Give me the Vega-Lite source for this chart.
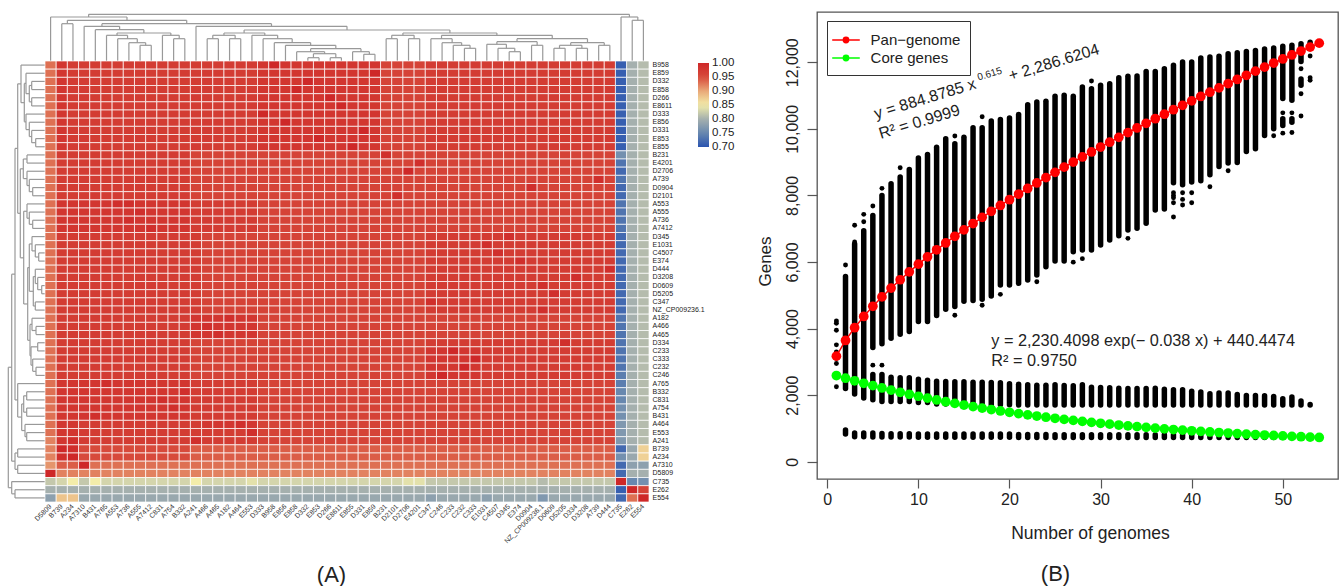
{"$schema":"https://vega.github.io/schema/vega-lite/v6.json","padding":{"left":7,"top":11,"right":0,"bottom":0},"spacing":20,
"config":{"view":{"stroke":null},"font":"Liberation Sans"},
"datasets":{
"cols":[{"i":1,"c":"D5809"},{"i":2,"c":"B739"},{"i":3,"c":"A234"},{"i":4,"c":"A7310"},{"i":5,"c":"B431"},{"i":6,"c":"A765"},{"i":7,"c":"A553"},{"i":8,"c":"A736"},{"i":9,"c":"A555"},{"i":10,"c":"A7412"},{"i":11,"c":"C831"},{"i":12,"c":"A754"},{"i":13,"c":"B332"},{"i":14,"c":"A241"},{"i":15,"c":"A466"},{"i":16,"c":"A465"},{"i":17,"c":"A182"},{"i":18,"c":"A464"},{"i":19,"c":"E553"},{"i":20,"c":"D333"},{"i":21,"c":"B958"},{"i":22,"c":"E856"},{"i":23,"c":"E858"},{"i":24,"c":"D332"},{"i":25,"c":"E853"},{"i":26,"c":"D266"},{"i":27,"c":"E8611"},{"i":28,"c":"E855"},{"i":29,"c":"D331"},{"i":30,"c":"E859"},{"i":31,"c":"B231"},{"i":32,"c":"D2101"},{"i":33,"c":"D2706"},{"i":34,"c":"E4201"},{"i":35,"c":"C347"},{"i":36,"c":"C246"},{"i":37,"c":"C233"},{"i":38,"c":"C232"},{"i":39,"c":"C333"},{"i":40,"c":"E1031"},{"i":41,"c":"C4507"},{"i":42,"c":"D345"},{"i":43,"c":"E374"},{"i":44,"c":"D0904"},{"i":45,"c":"NZ_CP009236.1"},{"i":46,"c":"D0609"},{"i":47,"c":"D5205"},{"i":48,"c":"D334"},{"i":49,"c":"D3208"},{"i":50,"c":"A739"},{"i":51,"c":"D444"},{"i":52,"c":"C735"},{"i":53,"c":"E262"},{"i":54,"c":"E554"}],
"heat":[
{"r":"B958","v":[93, 98,97, 97,97,97,97,97,97,97,97,97,97, 97,97,97,97,97,97, 98,100,98,98,98,98,98,98,98,98,98, 96,96,96,96, 97,97,97,97,97, 97,97,97,97,97,97,97,97,97,97,97,97, 71,80,81]},
{"r":"E859","v":[93, 98,97, 97,97,97,97,97,97,97,97,97,97, 97,97,97,97,97,97, 98,98,98,98,98,98,98,98,98,98,100, 96,96,96,96, 97,97,97,97,97, 97,97,97,97,97,97,97,97,97,97,97,97, 71,80,81]},
{"r":"D332","v":[93, 98,97, 97,97,97,97,97,97,97,97,97,97, 97,97,97,97,97,97, 98,98,98,98,100,98,98,98,98,98,98, 96,96,96,96, 97,97,97,97,97, 97,97,97,97,97,97,97,97,97,97,97,97, 71,80,81]},
{"r":"E858","v":[93, 98,97, 97,97,97,97,97,97,97,97,97,97, 97,97,97,97,97,97, 98,98,98,100,98,98,98,98,98,98,98, 96,96,96,96, 97,97,97,97,97, 97,97,97,97,97,97,97,97,97,97,97,97, 71,80,81]},
{"r":"D266","v":[93, 98,97, 97,97,97,97,97,97,97,97,97,97, 97,97,97,97,97,97, 98,98,98,98,98,98,100,98,98,98,98, 96,96,96,96, 97,97,97,97,97, 97,97,97,97,97,97,97,97,97,97,97,97, 71,80,81]},
{"r":"E8611","v":[93, 98,97, 97,97,97,97,97,97,97,97,97,97, 97,97,97,97,97,97, 98,98,98,98,98,98,98,100,98,98,98, 96,96,96,96, 97,97,97,97,97, 97,97,97,97,97,97,97,97,97,97,97,97, 71,80,81]},
{"r":"D333","v":[93, 98,97, 97,97,97,97,97,97,97,97,97,97, 97,97,97,97,97,97, 100,98,98,98,98,98,98,98,98,98,98, 96,96,96,96, 97,97,97,97,97, 97,97,97,97,97,97,97,97,97,97,97,97, 71,80,81]},
{"r":"E856","v":[93, 98,97, 97,97,97,97,97,97,97,97,97,97, 97,97,97,97,97,97, 98,98,100,98,98,98,98,98,98,98,98, 96,96,96,96, 97,97,97,97,97, 97,97,97,97,97,97,97,97,97,97,97,97, 71,80,81]},
{"r":"D331","v":[93, 98,97, 97,97,97,97,97,97,97,97,97,97, 97,97,97,97,97,97, 98,98,98,98,98,98,98,98,98,100,98, 96,96,96,96, 97,97,97,97,97, 97,97,97,97,97,97,97,97,97,97,97,97, 71,80,81]},
{"r":"E853","v":[93, 98,97, 97,97,97,97,97,97,97,97,97,97, 97,97,97,97,97,97, 98,98,98,98,98,100,98,98,98,98,98, 96,96,96,96, 97,97,97,97,97, 97,97,97,97,97,97,97,97,97,97,97,97, 71,80,81]},
{"r":"E855","v":[93, 98,97, 97,97,97,97,97,97,97,97,97,97, 97,97,97,97,97,97, 98,98,98,98,98,98,98,98,100,98,98, 96,96,96,96, 97,97,97,97,97, 97,97,97,97,97,97,97,97,97,97,97,97, 71,80,81]},
{"r":"B231","v":[93, 97,97, 97,97,97,97,97,97,97,97,97,97, 96,96,96,96,96,96, 96,96,96,96,96,96,96,96,96,96,96, 99,96,96,96, 96,96,96,96,96, 96,96,96,96,96,96,96,96,96,96,96,96, 76,80,81]},
{"r":"E4201","v":[93, 97,97, 97,97,97,97,97,97,97,97,97,97, 96,96,96,96,96,96, 96,96,96,96,96,96,96,96,96,96,96, 96,96,96,99, 96,96,96,96,96, 96,96,96,96,96,96,96,96,96,96,96,96, 73,80,81]},
{"r":"D2706","v":[93, 97,97, 97,97,97,97,97,97,97,97,97,97, 96,96,96,96,96,96, 96,96,96,96,96,96,96,96,96,96,96, 96,96,100,96, 96,96,96,96,96, 96,96,96,96,96,96,96,96,96,96,96,96, 72,80,81]},
{"r":"A739","v":[93, 97,97, 97,97,97,97,97,97,97,97,97,97, 96,96,96,96,96,96, 96,96,96,96,96,96,96,96,96,96,96, 96,96,96,96, 96,96,96,96,96, 96,96,96,96,96,96,96,96,96,96,99,96, 73,80,81]},
{"r":"D0904","v":[93, 97,97, 97,97,97,97,97,97,97,97,97,97, 96,96,96,96,96,96, 96,96,96,96,96,96,96,96,96,96,96, 96,96,96,96, 96,96,96,96,96, 96,96,96,96,99,96,96,96,96,96,96,96, 72,80,81]},
{"r":"D2101","v":[93, 97,97, 97,97,97,97,97,97,97,97,97,97, 96,96,96,96,96,96, 96,96,96,96,96,96,96,96,96,96,96, 96,99,96,96, 96,96,96,96,96, 96,96,96,96,96,96,96,96,96,96,96,96, 72,80,81]},
{"r":"A553","v":[93, 98,98, 98,98,98,99,99,98,98,98,98,98, 97,97,97,97,97,97, 96,96,96,96,96,96,96,96,96,96,96, 96,96,96,96, 96,96,96,96,96, 96,96,96,96,96,96,96,96,96,96,96,96, 73,80,81]},
{"r":"A555","v":[93, 98,98, 98,98,98,98,98,99,98,98,98,98, 97,97,97,97,97,97, 96,96,96,96,96,96,96,96,96,96,96, 96,96,96,96, 96,96,96,96,96, 96,96,96,96,96,96,96,96,96,96,96,96, 73,80,81]},
{"r":"A736","v":[93, 98,98, 98,98,98,98,99,98,98,98,98,98, 97,97,97,97,97,97, 96,96,96,96,96,96,96,96,96,96,96, 96,96,96,96, 96,96,96,96,96, 96,96,96,96,96,96,96,96,96,96,96,96, 73,80,81]},
{"r":"A7412","v":[93, 98,98, 98,98,98,98,98,98,99,98,98,98, 97,97,97,97,97,97, 96,96,96,96,96,96,96,96,96,96,96, 96,96,96,96, 96,96,96,96,96, 96,96,96,96,96,96,96,96,96,96,96,96, 73,80,81]},
{"r":"D345","v":[93, 97,97, 97,97,97,97,97,97,97,97,97,97, 97,96,96,96,96,96, 96,96,96,96,96,96,96,96,96,96,96, 96,96,96,96, 97,97,97,97,97, 97,97,99,97,97,97,97,97,97,97,97,97, 72,80,81]},
{"r":"E1031","v":[93, 97,97, 97,97,97,97,97,97,97,97,97,97, 97,96,96,96,96,96, 96,96,96,96,96,96,96,96,96,96,96, 96,96,96,96, 97,97,97,97,97, 99,97,97,97,97,97,97,97,97,97,97,97, 72,80,81]},
{"r":"C4507","v":[93, 97,97, 97,97,97,97,97,97,97,97,97,97, 97,96,96,96,96,96, 96,96,96,96,96,96,96,96,96,96,96, 96,96,96,96, 97,97,97,97,97, 97,99,97,97,97,97,97,97,97,97,97,97, 72,80,81]},
{"r":"E374","v":[93, 97,97, 97,97,97,97,97,97,97,97,97,97, 97,96,96,96,96,96, 96,96,96,96,96,96,96,96,96,96,96, 96,96,96,96, 97,97,97,97,97, 97,97,97,99,97,97,97,97,97,97,97,97, 72,80,81]},
{"r":"D444","v":[93, 97,97, 97,97,97,97,97,97,97,97,97,97, 97,96,96,96,96,96, 96,96,96,96,96,96,96,96,96,96,96, 96,96,96,96, 97,97,97,97,97, 97,97,97,97,97,97,97,97,97,97,97,99, 72,80,81]},
{"r":"D3208","v":[93, 97,97, 97,97,97,97,97,97,97,97,97,97, 97,96,96,96,96,96, 96,96,96,96,96,96,96,96,96,96,96, 96,96,96,96, 97,97,97,97,97, 97,97,97,97,97,97,97,97,99,97,97,97, 72,80,81]},
{"r":"D0609","v":[93, 97,97, 97,97,97,97,97,97,97,97,97,97, 97,96,96,96,96,96, 96,96,96,96,96,96,96,96,96,96,96, 96,96,96,96, 97,97,97,97,97, 97,97,97,97,97,99,97,97,97,97,97,97, 72,80,81]},
{"r":"D5205","v":[93, 97,97, 97,97,97,97,97,97,97,97,97,97, 97,96,96,96,96,96, 96,96,96,96,96,96,96,96,96,96,96, 96,96,96,96, 97,97,97,97,97, 97,97,97,97,97,97,99,97,97,97,97,97, 72,80,81]},
{"r":"C347","v":[93, 97,97, 97,97,97,97,97,97,97,97,97,97, 97,96,96,96,96,96, 96,96,96,96,96,96,96,96,96,96,96, 96,96,96,96, 99,97,97,97,97, 97,97,97,97,97,97,97,97,97,97,97,97, 72,80,81]},
{"r":"NZ_CP009236.1","v":[93, 97,97, 97,97,97,97,97,97,97,97,97,97, 97,96,96,96,96,96, 96,96,96,96,96,96,96,96,96,96,96, 96,96,96,96, 97,97,97,97,97, 97,97,97,97,97,99,97,97,97,97,97,97, 72,80,81]},
{"r":"A182","v":[93, 97,97, 97,97,97,97,97,97,97,97,97,97, 98,98,98,99,98,98, 96,96,96,96,96,96,96,96,96,96,96, 96,96,96,96, 96,96,96,96,96, 96,96,96,96,96,96,96,96,96,96,96,96, 73,80,81]},
{"r":"A466","v":[93, 97,97, 97,97,97,97,97,97,97,97,97,97, 98,99,98,98,98,98, 96,96,96,96,96,96,96,96,96,96,96, 96,96,96,96, 96,96,96,96,96, 96,96,96,96,96,96,96,96,96,96,96,96, 73,80,81]},
{"r":"A465","v":[93, 97,97, 97,97,97,97,97,97,97,97,97,97, 98,98,99,98,98,98, 96,96,96,96,96,96,96,96,96,96,96, 96,96,96,96, 96,96,96,96,96, 96,96,96,96,96,96,96,96,96,96,96,96, 73,80,81]},
{"r":"D334","v":[93, 97,97, 97,97,97,97,97,97,97,97,97,97, 96,96,96,96,96,96, 96,96,96,96,96,96,96,96,96,96,96, 96,96,96,96, 97,97,97,97,97, 97,97,97,97,97,97,97,99,97,97,97,97, 73,80,81]},
{"r":"C233","v":[93, 97,97, 97,97,97,97,97,97,97,97,97,97, 96,96,96,96,96,96, 96,96,96,96,96,96,96,96,96,96,96, 96,96,96,96, 98,98,100,98,98, 97,97,97,97,97,97,97,97,97,97,97,97, 73,80,81]},
{"r":"C333","v":[93, 97,97, 97,97,97,97,97,97,97,97,97,97, 96,96,96,96,96,96, 96,96,96,96,96,96,96,96,96,96,96, 96,96,96,96, 98,98,98,98,100, 97,97,97,97,97,97,97,97,97,97,97,97, 73,80,81]},
{"r":"C232","v":[93, 97,97, 97,97,97,97,97,97,97,97,97,97, 96,96,96,96,96,96, 96,96,96,96,96,96,96,96,96,96,96, 96,96,96,96, 98,98,98,100,98, 97,97,97,97,97,97,97,97,97,97,97,97, 73,80,81]},
{"r":"C246","v":[93, 97,97, 97,97,97,97,97,97,97,97,97,97, 96,96,96,96,96,96, 96,96,96,96,96,96,96,96,96,96,96, 96,96,96,96, 98,100,98,98,98, 97,97,97,97,97,97,97,97,97,97,97,97, 74,80,81]},
{"r":"A765","v":[93, 98,98, 98,98,99,98,98,98,98,98,98,98, 97,97,97,97,97,97, 96,96,96,96,96,96,96,96,96,96,96, 96,96,96,96, 96,96,96,96,96, 96,96,96,96,96,96,96,96,96,96,96,96, 74,80,81]},
{"r":"B332","v":[93, 98,98, 98,98,98,98,98,98,98,98,98,99, 97,97,97,97,97,97, 96,96,96,96,96,96,96,96,96,96,96, 96,96,96,96, 96,96,96,96,96, 96,96,96,96,96,96,96,96,96,96,96,96, 75,80,81]},
{"r":"C831","v":[93, 98,98, 98,98,98,98,98,98,98,99,98,98, 97,97,97,97,97,97, 96,96,96,96,96,96,96,96,96,96,96, 96,96,96,96, 96,96,96,96,96, 96,96,96,96,96,96,96,96,96,96,96,96, 75,80,81]},
{"r":"A754","v":[93, 98,98, 98,98,98,98,98,98,98,98,99,98, 97,97,97,97,97,97, 96,96,96,96,96,96,96,96,96,96,96, 96,96,96,96, 96,96,96,96,96, 96,96,96,96,96,96,96,96,96,96,96,96, 76,80,81]},
{"r":"B431","v":[93, 98,98, 98,99,98,98,98,98,98,98,98,98, 97,97,97,97,97,97, 96,96,96,96,96,96,96,96,96,96,96, 96,96,96,96, 96,96,96,96,96, 96,96,96,96,96,96,96,96,96,96,96,96, 76,80,81]},
{"r":"A464","v":[93, 98,98, 97,97,97,97,97,97,97,97,97,97, 97,98,98,98,99,98, 96,96,96,96,96,96,96,96,96,96,96, 96,96,96,96, 96,96,96,96,96, 96,96,96,96,96,96,96,96,96,96,96,96, 77,80,81]},
{"r":"E553","v":[93, 98,98, 97,97,97,97,97,97,97,97,97,97, 97,97,97,97,97,99, 96,96,96,96,96,96,96,96,96,96,96, 96,96,96,96, 96,96,96,96,96, 96,96,96,96,96,96,96,96,96,96,96,96, 77,80,81]},
{"r":"A241","v":[92, 98,99, 97,97,97,97,97,97,97,97,97,97, 99,97,97,97,97,97, 96,96,96,96,96,96,96,96,96,96,96, 96,96,96,96, 96,96,96,96,96, 96,96,96,96,96,96,96,96,96,96,96,96, 77,80,81]},
{"r":"B739","v":[92, 100,99, 95,95,95,95,95,95,95,95,95,95, 94,94,94,94,94,94, 94,94,94,94,94,94,94,94,94,94,94, 94,94,94,94, 94,94,94,94,94, 94,94,94,94,94,94,94,94,94,94,94,94, 72,79,87]},
{"r":"A234","v":[92, 99,100, 95,95,95,95,95,95,95,95,95,95, 94,94,94,94,94,94, 94,94,94,94,94,94,94,94,94,94,94, 94,94,94,94, 94,94,94,94,94, 94,94,94,94,94,94,94,94,94,94,94,94, 76,79,87]},
{"r":"A7310","v":[91, 94,94, 100,93,93,93,93,93,93,93,93,93, 93,93,93,93,93,93, 93,93,93,93,93,93,93,93,93,93,93, 93,93,93,93, 93,93,93,93,93, 93,93,93,93,93,93,93,93,93,93,93,93, 72,78,78]},
{"r":"D5809","v":[100, 92,92, 92,92,92,92,92,92,92,92,92,92, 92,92,92,92,92,92, 92,92,92,92,92,92,92,92,92,92,92, 92,92,92,92, 92,92,92,92,92, 92,92,92,92,92,92,92,92,92,92,92,92, 72,80,80]},
{"r":"C735","v":[82, 83,85, 82,85,83,83,83,83,83,83,83,83, 85,83,83,83,83,84, 83,83,83,83,83,83,83,83,83,83,83, 83,83,84,84, 82,82,82,82,82, 82,82,82,82,82,81,82,82,82,82,82,82, 100,75,76]},
{"r":"E262","v":[80, 80,80, 80,80,80,80,80,80,80,80,80,80, 80,80,80,80,80,80, 80,80,80,80,80,80,80,80,80,80,80, 80,80,80,80, 80,80,80,80,80, 80,80,80,80,80,80,80,80,80,80,80,80, 71,100,96]},
{"r":"E554","v":[78, 88,88, 79,79,79,79,79,79,79,79,79,79, 79,79,79,79,79,79, 79,79,79,79,79,79,79,79,79,79,79, 79,79,79,79, 78,79,79,79,79, 78,79,79,79,79,77,79,79,79,79,79,79, 72,93,100]}
],
"topTree":[{"a":9,"b":10,"h":15.7,"ha":0,"hb":0},{"a":8,"b":9.5,"h":18.3,"ha":0,"hb":15.7},{"a":7,"b":8.75,"h":22.3,"ha":0,"hb":18.3},{"a":6,"b":7.88,"h":25.7,"ha":0,"hb":22.3},{"a":12,"b":13,"h":22.3,"ha":0,"hb":0},{"a":11,"b":12.5,"h":25.7,"ha":0,"hb":22.3},{"a":6.94,"b":11.75,"h":28,"ha":25.7,"hb":25.7},{"a":5,"b":9.34,"h":31.3,"ha":0,"hb":28},{"a":4,"b":7.17,"h":34.7,"ha":0,"hb":31.3},{"a":15,"b":16,"h":22.3,"ha":0,"hb":0},{"a":17,"b":18,"h":22.3,"ha":0,"hb":0},{"a":15.5,"b":17.5,"h":25.7,"ha":22.3,"hb":22.3},{"a":29,"b":30,"h":6.7,"ha":0,"hb":0},{"a":28,"b":29.5,"h":9.3,"ha":0,"hb":6.7},{"a":24,"b":25,"h":3.3,"ha":0,"hb":0},{"a":26,"b":27,"h":3.3,"ha":0,"hb":0},{"a":24.5,"b":26.5,"h":7.3,"ha":3.3,"hb":3.3},{"a":23,"b":25.5,"h":9.3,"ha":0,"hb":7.3},{"a":24.25,"b":28.75,"h":12.3,"ha":9.3,"hb":9.3},{"a":22,"b":26.5,"h":15.7,"ha":0,"hb":12.3},{"a":21,"b":24.25,"h":18.3,"ha":0,"hb":15.7},{"a":20,"b":22.6,"h":22.3,"ha":0,"hb":18.3},{"a":19,"b":21.3,"h":25.7,"ha":0,"hb":22.3},{"a":16.5,"b":20.15,"h":28,"ha":25.7,"hb":25.7},{"a":31,"b":32,"h":22.3,"ha":0,"hb":0},{"a":33,"b":34,"h":22.3,"ha":0,"hb":0},{"a":31.5,"b":33.5,"h":25.7,"ha":22.3,"hb":22.3},{"a":38,"b":39,"h":12.7,"ha":0,"hb":0},{"a":37,"b":38.5,"h":15.7,"ha":0,"hb":12.7},{"a":36,"b":37.75,"h":18.3,"ha":0,"hb":15.7},{"a":35,"b":36.9,"h":22.3,"ha":0,"hb":18.3},{"a":42,"b":43,"h":9.3,"ha":0,"hb":0},{"a":41,"b":42.5,"h":12.7,"ha":0,"hb":9.3},{"a":40,"b":41.75,"h":16.7,"ha":0,"hb":12.7},{"a":44,"b":45,"h":15.7,"ha":0,"hb":0},{"a":40.9,"b":44.5,"h":19.3,"ha":16.7,"hb":15.7},{"a":46,"b":47,"h":12.7,"ha":0,"hb":0},{"a":48,"b":49,"h":12.7,"ha":0,"hb":0},{"a":46.5,"b":48.5,"h":15.7,"ha":12.7,"hb":12.7},{"a":50,"b":51,"h":15.7,"ha":0,"hb":0},{"a":47.5,"b":50.5,"h":18.3,"ha":15.7,"hb":15.7},{"a":42.7,"b":49,"h":22.3,"ha":19.3,"hb":18.3},{"a":35.95,"b":45.85,"h":25.7,"ha":22.3,"hb":22.3},{"a":32.5,"b":40.9,"h":28,"ha":25.7,"hb":25.7},{"a":18.3,"b":36.7,"h":31,"ha":28,"hb":28},{"a":14,"b":27.5,"h":34.7,"ha":0,"hb":31},{"a":5.59,"b":20.75,"h":37.3,"ha":34.7,"hb":34.7},{"a":2,"b":3,"h":37.3,"ha":0,"hb":0},{"a":2.5,"b":13.17,"h":40.7,"ha":37.3,"hb":37.3},{"a":1,"b":7.83,"h":44,"ha":0,"hb":40.7},{"a":53,"b":54,"h":40.7,"ha":0,"hb":0},{"a":52,"b":53.5,"h":44,"ha":0,"hb":40.7},{"a":4.4,"b":52.75,"h":46.7,"ha":44,"hb":44}],
"leftTree":[{"a":3,"b":4,"h":13.3,"ha":0,"hb":0},{"a":5,"b":6,"h":13.3,"ha":0,"hb":0},{"a":3.5,"b":5.5,"h":15.7,"ha":13.3,"hb":13.3},{"a":2,"b":4.5,"h":19,"ha":0,"hb":15.7},{"a":10,"b":11,"h":9.3,"ha":0,"hb":0},{"a":9,"b":10.5,"h":13.3,"ha":0,"hb":9.3},{"a":8,"b":9.75,"h":15.7,"ha":0,"hb":13.3},{"a":7,"b":8.9,"h":19,"ha":0,"hb":15.7},{"a":3.25,"b":7.95,"h":20.7,"ha":19,"hb":19},{"a":1,"b":5.6,"h":24,"ha":0,"hb":20.7},{"a":12,"b":13,"h":18,"ha":0,"hb":0},{"a":16,"b":17,"h":12.3,"ha":0,"hb":0},{"a":15,"b":16.5,"h":15.7,"ha":0,"hb":12.3},{"a":14,"b":15.75,"h":18,"ha":0,"hb":15.7},{"a":12.5,"b":14.9,"h":21.7,"ha":18,"hb":18},{"a":20,"b":21,"h":12.3,"ha":0,"hb":0},{"a":19,"b":20.5,"h":15.7,"ha":0,"hb":12.3},{"a":18,"b":19.75,"h":18,"ha":0,"hb":15.7},{"a":24,"b":25,"h":6.3,"ha":0,"hb":0},{"a":23,"b":24.5,"h":9.7,"ha":0,"hb":6.3},{"a":22,"b":23.75,"h":13,"ha":0,"hb":9.7},{"a":28,"b":29,"h":3.3,"ha":0,"hb":0},{"a":27,"b":28.5,"h":7.3,"ha":0,"hb":3.3},{"a":26,"b":27.75,"h":9.7,"ha":0,"hb":7.3},{"a":30,"b":31,"h":9.7,"ha":0,"hb":0},{"a":26.9,"b":30.5,"h":11.7,"ha":9.7,"hb":9.7},{"a":22.9,"b":28.7,"h":15.7,"ha":13,"hb":11.7},{"a":33,"b":34,"h":9,"ha":0,"hb":0},{"a":32,"b":33.5,"h":13,"ha":0,"hb":9},{"a":35,"b":36,"h":7.3,"ha":0,"hb":0},{"a":38,"b":39,"h":9,"ha":0,"hb":0},{"a":37,"b":38.5,"h":12.3,"ha":0,"hb":9},{"a":35.5,"b":37.75,"h":14,"ha":7.3,"hb":12.3},{"a":32.75,"b":36.6,"h":15,"ha":13,"hb":14},{"a":25.8,"b":34.7,"h":17.3,"ha":15.7,"hb":15},{"a":18.9,"b":30.25,"h":21.3,"ha":18,"hb":17.3},{"a":13.7,"b":24.6,"h":24.7,"ha":21.7,"hb":21.3},{"a":3.3,"b":19.15,"h":27.3,"ha":24,"hb":24.7},{"a":41,"b":42,"h":18.3,"ha":0,"hb":0},{"a":43,"b":44,"h":18.3,"ha":0,"hb":0},{"a":41.5,"b":43.5,"h":21.3,"ha":18.3,"hb":18.3},{"a":46,"b":47,"h":18.3,"ha":0,"hb":0},{"a":45,"b":46.5,"h":20,"ha":0,"hb":18.3},{"a":42.5,"b":45.75,"h":23.3,"ha":21.3,"hb":20},{"a":40,"b":44.1,"h":27.3,"ha":0,"hb":23.3},{"a":11.2,"b":42,"h":30,"ha":27.3,"hb":27.3},{"a":48,"b":49,"h":27.3,"ha":0,"hb":0},{"a":50,"b":51,"h":27.3,"ha":0,"hb":0},{"a":48.5,"b":50.5,"h":30,"ha":27.3,"hb":27.3},{"a":26.6,"b":49.5,"h":33.3,"ha":30,"hb":30},{"a":53,"b":54,"h":30,"ha":0,"hb":0},{"a":52,"b":53.5,"h":33.3,"ha":0,"hb":30},{"a":38,"b":52.75,"h":36.7,"ha":33.3,"hb":33.3}],
"bands":[{"n":2,"lo":2200,"hi":5560},{"n":3,"lo":2030,"hi":6540},{"n":4,"lo":1910,"hi":6940},{"n":5,"lo":3430,"hi":7400},{"n":6,"lo":3540,"hi":8000},{"n":7,"lo":3710,"hi":8350},{"n":8,"lo":3830,"hi":8550},{"n":9,"lo":3910,"hi":8780},{"n":10,"lo":4210,"hi":9120},{"n":11,"lo":4210,"hi":9230},{"n":12,"lo":4390,"hi":9450},{"n":13,"lo":4580,"hi":9700},{"n":14,"lo":4660,"hi":9550},{"n":15,"lo":4820,"hi":9750},{"n":16,"lo":4845,"hi":10030},{"n":17,"lo":4880,"hi":10030},{"n":18,"lo":4980,"hi":10235},{"n":19,"lo":5310,"hi":10280},{"n":20,"lo":5310,"hi":10325},{"n":21,"lo":5360,"hi":10430},{"n":22,"lo":5460,"hi":10725},{"n":23,"lo":5610,"hi":10805},{"n":24,"lo":5860,"hi":10830},{"n":25,"lo":6030,"hi":10976},{"n":26,"lo":6030,"hi":11006},{"n":27,"lo":6310,"hi":10976},{"n":28,"lo":6360,"hi":11256},{"n":29,"lo":6360,"hi":11205},{"n":30,"lo":6510,"hi":11306},{"n":31,"lo":6660,"hi":11356},{"n":32,"lo":6790,"hi":11536},{"n":33,"lo":6960,"hi":11576},{"n":34,"lo":7010,"hi":11586},{"n":35,"lo":7160,"hi":11726},{"n":36,"lo":7560,"hi":11726},{"n":37,"lo":7590,"hi":11806},{"n":38,"lo":8380,"hi":11907},{"n":39,"lo":8320,"hi":12007},{"n":40,"lo":8400,"hi":12007},{"n":41,"lo":8440,"hi":12127},{"n":42,"lo":8620,"hi":12157},{"n":43,"lo":8870,"hi":12177},{"n":44,"lo":8970,"hi":12257},{"n":45,"lo":8990,"hi":12287},{"n":46,"lo":9320,"hi":12327},{"n":47,"lo":9400,"hi":12357},{"n":48,"lo":9800,"hi":12397},{"n":49,"lo":10000,"hi":12427},{"n":50,"lo":10910,"hi":12478},{"n":50,"lo":10100,"hi":10300},{"n":51,"lo":10860,"hi":12508},{"n":51,"lo":10200,"hi":10300},{"n":52,"lo":12020,"hi":12558},{"n":52,"lo":11310,"hi":11500},{"n":53,"lo":12560,"hi":12600},
{"n":5,"lo":1860,"hi":2620},{"n":6,"lo":1810,"hi":2620},{"n":7,"lo":1810,"hi":2540},{"n":8,"lo":1810,"hi":2520},{"n":9,"lo":1810,"hi":2520},{"n":10,"lo":1780,"hi":2480},{"n":11,"lo":1780,"hi":2450},{"n":12,"lo":1730,"hi":2420},{"n":13,"lo":1730,"hi":2410},{"n":14,"lo":1730,"hi":2400},{"n":15,"lo":1720,"hi":2400},{"n":16,"lo":1720,"hi":2390},{"n":17,"lo":1720,"hi":2390},{"n":18,"lo":1710,"hi":2380},{"n":19,"lo":1710,"hi":2370},{"n":20,"lo":1710,"hi":2340},{"n":21,"lo":1700,"hi":2330},{"n":22,"lo":1700,"hi":2310},{"n":23,"lo":1700,"hi":2300},{"n":24,"lo":1700,"hi":2293},{"n":25,"lo":1700,"hi":2310},{"n":26,"lo":1700,"hi":2290},{"n":27,"lo":1700,"hi":2280},{"n":28,"lo":1700,"hi":2310},{"n":29,"lo":1700,"hi":2240},{"n":30,"lo":1700,"hi":2230},{"n":31,"lo":1700,"hi":2220},{"n":32,"lo":1700,"hi":2210},{"n":33,"lo":1700,"hi":2200},{"n":34,"lo":1700,"hi":2200},{"n":35,"lo":1700,"hi":2200},{"n":36,"lo":1700,"hi":2210},{"n":37,"lo":1700,"hi":2180},{"n":38,"lo":1700,"hi":2160},{"n":39,"lo":1700,"hi":2160},{"n":40,"lo":1700,"hi":2120},{"n":41,"lo":1700,"hi":2090},{"n":42,"lo":1700,"hi":2040},{"n":43,"lo":1700,"hi":2060},{"n":44,"lo":1700,"hi":2060},{"n":45,"lo":1700,"hi":2020},{"n":46,"lo":1700,"hi":1990},{"n":47,"lo":1700,"hi":1990},{"n":48,"lo":1700,"hi":1980},{"n":49,"lo":1700,"hi":1960},{"n":50,"lo":1700,"hi":1890},{"n":51,"lo":1700,"hi":1940},{"n":52,"lo":1700,"hi":1820},{"n":53,"lo":1700,"hi":1720},
{"n":2,"lo":830,"hi":950},{"n":3,"lo":750,"hi":860},{"n":4,"lo":750,"hi":860},{"n":5,"lo":745,"hi":860},{"n":6,"lo":745,"hi":850},{"n":7,"lo":740,"hi":840},{"n":8,"lo":740,"hi":840},{"n":9,"lo":740,"hi":840},{"n":10,"lo":735,"hi":830},{"n":11,"lo":735,"hi":830},{"n":12,"lo":735,"hi":830},{"n":13,"lo":735,"hi":830},{"n":14,"lo":735,"hi":830},{"n":15,"lo":735,"hi":830},{"n":16,"lo":735,"hi":830},{"n":17,"lo":735,"hi":830},{"n":18,"lo":735,"hi":830},{"n":19,"lo":735,"hi":830},{"n":20,"lo":735,"hi":830},{"n":21,"lo":730,"hi":820},{"n":22,"lo":730,"hi":820},{"n":23,"lo":730,"hi":820},{"n":24,"lo":730,"hi":820},{"n":25,"lo":730,"hi":810},{"n":26,"lo":730,"hi":810},{"n":27,"lo":730,"hi":810},{"n":28,"lo":730,"hi":810},{"n":29,"lo":730,"hi":810},{"n":30,"lo":730,"hi":810},{"n":31,"lo":730,"hi":810},{"n":32,"lo":730,"hi":810},{"n":33,"lo":730,"hi":810},{"n":34,"lo":730,"hi":810},{"n":35,"lo":730,"hi":810},{"n":36,"lo":730,"hi":810},{"n":37,"lo":730,"hi":810},{"n":38,"lo":730,"hi":810},{"n":39,"lo":730,"hi":810},{"n":40,"lo":730,"hi":810},{"n":41,"lo":730,"hi":800},{"n":42,"lo":730,"hi":800},{"n":43,"lo":730,"hi":790},{"n":44,"lo":730,"hi":790},{"n":45,"lo":730,"hi":780},{"n":46,"lo":730,"hi":770},{"n":47,"lo":730,"hi":760},{"n":48,"lo":730,"hi":750},{"n":49,"lo":730,"hi":740}],
"dots":[{"n":1,"y":4230},{"n":1,"y":4160},{"n":1,"y":3950},{"n":1,"y":3510},{"n":1,"y":3300},{"n":1,"y":3100},{"n":1,"y":2950},{"n":1,"y":2250},{"n":2,"y":5910},{"n":3,"y":7104},{"n":3,"y":6600},{"n":4,"y":7431},{"n":4,"y":7210},{"n":5,"y":7681},{"n":5,"y":2900},{"n":6,"y":8212},{"n":6,"y":2900},{"n":8,"y":8832},{"n":14,"y":9784},{"n":14,"y":4400},{"n":17,"y":10364},{"n":17,"y":4700},{"n":19,"y":5027},{"n":23,"y":5407},{"n":27,"y":5995},{"n":28,"y":6100},{"n":29,"y":11436},{"n":33,"y":6710},{"n":38,"y":8080},{"n":38,"y":8000},{"n":38,"y":7930},{"n":38,"y":7780},{"n":38,"y":7350},{"n":39,"y":8080},{"n":39,"y":7880},{"n":39,"y":7710},{"n":40,"y":8080},{"n":40,"y":7780},{"n":42,"y":8260},{"n":44,"y":8740},{"n":49,"y":9790},{"n":50,"y":10480},{"n":50,"y":9870},{"n":51,"y":10480},{"n":51,"y":9890},{"n":52,"y":11806},{"n":52,"y":11056},{"n":52,"y":10385},{"n":53,"y":12537},{"n":53,"y":12187},{"n":53,"y":11536},{"n":53,"y":11460}],
"series":[{"n":1,"s":"Pan−genome","y":3171},{"n":2,"s":"Pan−genome","y":3642},{"n":3,"s":"Pan−genome","y":4026},{"n":4,"s":"Pan−genome","y":4363},{"n":5,"s":"Pan−genome","y":4668},{"n":6,"s":"Pan−genome","y":4950},{"n":7,"s":"Pan−genome","y":5215},{"n":8,"s":"Pan−genome","y":5466},{"n":9,"s":"Pan−genome","y":5704},{"n":10,"s":"Pan−genome","y":5934},{"n":11,"s":"Pan−genome","y":6154},{"n":12,"s":"Pan−genome","y":6366},{"n":13,"s":"Pan−genome","y":6572},{"n":14,"s":"Pan−genome","y":6772},{"n":15,"s":"Pan−genome","y":6966},{"n":16,"s":"Pan−genome","y":7155},{"n":17,"s":"Pan−genome","y":7341},{"n":18,"s":"Pan−genome","y":7522},{"n":19,"s":"Pan−genome","y":7698},{"n":20,"s":"Pan−genome","y":7871},{"n":21,"s":"Pan−genome","y":8042},{"n":22,"s":"Pan−genome","y":8209},{"n":23,"s":"Pan−genome","y":8373},{"n":24,"s":"Pan−genome","y":8534},{"n":25,"s":"Pan−genome","y":8693},{"n":26,"s":"Pan−genome","y":8849},{"n":27,"s":"Pan−genome","y":9003},{"n":28,"s":"Pan−genome","y":9155},{"n":29,"s":"Pan−genome","y":9305},{"n":30,"s":"Pan−genome","y":9453},{"n":31,"s":"Pan−genome","y":9599},{"n":32,"s":"Pan−genome","y":9744},{"n":33,"s":"Pan−genome","y":9887},{"n":34,"s":"Pan−genome","y":10027},{"n":35,"s":"Pan−genome","y":10166},{"n":36,"s":"Pan−genome","y":10304},{"n":37,"s":"Pan−genome","y":10440},{"n":38,"s":"Pan−genome","y":10575},{"n":39,"s":"Pan−genome","y":10708},{"n":40,"s":"Pan−genome","y":10841},{"n":41,"s":"Pan−genome","y":10972},{"n":42,"s":"Pan−genome","y":11101},{"n":43,"s":"Pan−genome","y":11229},{"n":44,"s":"Pan−genome","y":11357},{"n":45,"s":"Pan−genome","y":11484},{"n":46,"s":"Pan−genome","y":11608},{"n":47,"s":"Pan−genome","y":11733},{"n":48,"s":"Pan−genome","y":11855},{"n":49,"s":"Pan−genome","y":11977},{"n":50,"s":"Pan−genome","y":12099},{"n":51,"s":"Pan−genome","y":12219},{"n":52,"s":"Pan−genome","y":12338},{"n":53,"s":"Pan−genome","y":12456},{"n":54,"s":"Pan−genome","y":12574},
{"n":1,"s":"Core genes","y":2588},{"n":2,"s":"Core genes","y":2507},{"n":3,"s":"Core genes","y":2431},{"n":4,"s":"Core genes","y":2356},{"n":5,"s":"Core genes","y":2285},{"n":6,"s":"Core genes","y":2216},{"n":7,"s":"Core genes","y":2150},{"n":8,"s":"Core genes","y":2086},{"n":9,"s":"Core genes","y":2025},{"n":10,"s":"Core genes","y":1966},{"n":11,"s":"Core genes","y":1909},{"n":12,"s":"Core genes","y":1854},{"n":13,"s":"Core genes","y":1801},{"n":14,"s":"Core genes","y":1751},{"n":15,"s":"Core genes","y":1702},{"n":16,"s":"Core genes","y":1655},{"n":17,"s":"Core genes","y":1610},{"n":18,"s":"Core genes","y":1566},{"n":19,"s":"Core genes","y":1524},{"n":20,"s":"Core genes","y":1484},{"n":21,"s":"Core genes","y":1445},{"n":22,"s":"Core genes","y":1407},{"n":23,"s":"Core genes","y":1371},{"n":24,"s":"Core genes","y":1336},{"n":25,"s":"Core genes","y":1303},{"n":26,"s":"Core genes","y":1271},{"n":27,"s":"Core genes","y":1240},{"n":28,"s":"Core genes","y":1210},{"n":29,"s":"Core genes","y":1181},{"n":30,"s":"Core genes","y":1154},{"n":31,"s":"Core genes","y":1127},{"n":32,"s":"Core genes","y":1101},{"n":33,"s":"Core genes","y":1077},{"n":34,"s":"Core genes","y":1053},{"n":35,"s":"Core genes","y":1030},{"n":36,"s":"Core genes","y":1008},{"n":37,"s":"Core genes","y":987},{"n":38,"s":"Core genes","y":967},{"n":39,"s":"Core genes","y":947},{"n":40,"s":"Core genes","y":928},{"n":41,"s":"Core genes","y":910},{"n":42,"s":"Core genes","y":893},{"n":43,"s":"Core genes","y":876},{"n":44,"s":"Core genes","y":860},{"n":45,"s":"Core genes","y":844},{"n":46,"s":"Core genes","y":829},{"n":47,"s":"Core genes","y":814},{"n":48,"s":"Core genes","y":800},{"n":49,"s":"Core genes","y":787},{"n":50,"s":"Core genes","y":774},{"n":51,"s":"Core genes","y":762},{"n":52,"s":"Core genes","y":750},{"n":53,"s":"Core genes","y":738},{"n":54,"s":"Core genes","y":727}]
},
"hconcat":[
{"bounds":"flush","spacing":0,"vconcat":[
{"width":641,"height":49,"data":{"name":"topTree"},
"layer":[
{"mark":{"type":"rule","color":"#999","strokeWidth":1.2},"encoding":{"x":{"field":"a","type":"quantitative","axis":null,"scale":{"domain":[-2.808,54.5],"nice":false,"zero":false}},"x2":{"field":"b"},"y":{"field":"h","type":"quantitative","axis":null,"scale":{"domain":[0,49],"nice":false}}}},
{"mark":{"type":"rule","color":"#999","strokeWidth":1.2},"encoding":{"x":{"field":"a","type":"quantitative","axis":null},"y":{"field":"ha","type":"quantitative","axis":null},"y2":{"field":"h"}}},
{"mark":{"type":"rule","color":"#999","strokeWidth":1.2},"encoding":{"x":{"field":"b","type":"quantitative","axis":null},"y":{"field":"hb","type":"quantitative","axis":null},"y2":{"field":"h"}}}
]},
{"bounds":"flush","spacing":0,"hconcat":[
{"width":37,"height":441,"data":{"name":"leftTree"},
"layer":[
{"mark":{"type":"rule","color":"#999","strokeWidth":1.2},"encoding":{"y":{"field":"a","type":"quantitative","axis":null,"scale":{"domain":[54.5,0.5],"nice":false,"zero":false}},"y2":{"field":"b"},"x":{"field":"h","type":"quantitative","axis":null,"scale":{"domain":[37,0],"nice":false}}}},
{"mark":{"type":"rule","color":"#999","strokeWidth":1.2},"encoding":{"y":{"field":"a","type":"quantitative","axis":null},"x":{"field":"ha","type":"quantitative","axis":null},"x2":{"field":"h"}}},
{"mark":{"type":"rule","color":"#999","strokeWidth":1.2},"encoding":{"y":{"field":"b","type":"quantitative","axis":null},"x":{"field":"hb","type":"quantitative","axis":null},"x2":{"field":"h"}}}
]},
{"width":604,"height":441,"data":{"name":"heat"},
"transform":[{"flatten":["v"]},{"window":[{"op":"row_number","as":"i"}],"groupby":["r"]},{"lookup":"i","from":{"data":{"name":"cols"},"key":"i","fields":["c"]}}],
"mark":{"type":"rect","stroke":"white","strokeWidth":0.7},
"encoding":{
"x":{"field":"c","type":"nominal","sort":{"field":"i","op":"min"},"axis":{"title":"(A)","titleFontSize":22,"titleFontWeight":"normal","titleColor":"#222","titleX":286,"titleY":79,"titleBaseline":"alphabetic","labelAngle":-45,"labelAlign":"right","labelBaseline":"middle","labelFontSize":7,"labelColor":"#333","ticks":false,"domain":false,"labelPadding":3,"labelOverlap":false,"labelLimit":0}},
"y":{"field":"r","type":"nominal","sort":null,"axis":{"orient":"right","title":null,"labelFontSize":7,"labelColor":"#222","ticks":false,"domain":false,"labelPadding":3,"labelOverlap":false}},
"color":{"field":"v","type":"quantitative","scale":{"domain":[70,75,80,85,90,95,100],"range":["#2B55B0","#6888AF","#A5B0AE","#F3EDAA","#E9A878","#D74A3B","#CE2828"],"interpolate":"rgb"},"legend":{"orient":"none","legendX":690,"legendY":51,"title":null,"type":"gradient","values":[70,75,80,85,90,95,100],"labelExpr":"format(datum.value/100,'.2f')","gradientLength":84,"gradientThickness":11,"labelFontSize":11.5,"labelColor":"#222","labelOffset":3,"gradientStrokeWidth":0,"labelOverlap":false,"encode":{"labels":{"update":{"baseline":{"value":"middle"}}}}}}
}}
]}
]},
{"width":521,"height":467,"view":{"stroke":"#555","strokeWidth":1.3},
"layer":[
{"data":{"name":"bands"},"mark":{"type":"rule","color":"black","strokeWidth":5.5,"strokeCap":"round"},"encoding":{
"x":{"field":"n","type":"quantitative","scale":{"domain":[-1.13,56.06],"nice":false,"zero":false},"axis":{"title":"Number of genomes","titleFontSize":17.5,"titleFontWeight":"normal","titleColor":"#222","titleX":273,"titleY":59,"titleBaseline":"alphabetic","values":[0,10,20,30,40,50],"grid":false,"domain":false,"tickSize":9,"tickColor":"#555","tickWidth":1.2,"labelFontSize":16,"labelColor":"#222","labelPadding":3}},
"y":{"field":"lo","type":"quantitative","scale":{"domain":[-520,13510],"nice":false,"zero":false},"axis":{"title":"Genes","titleFontSize":17,"titleFontWeight":"normal","titleColor":"#222","titleX":-47,"titleY":249,"titleAngle":270,"titleBaseline":"alphabetic","values":[0,2000,4000,6000,8000,10000,12000],"format":",.0f","grid":false,"domain":false,"tickSize":10,"tickColor":"#555","tickWidth":1.2,"labelFontSize":16,"labelColor":"#222","labelAngle":270,"labelAlign":"center","labelBaseline":"bottom","labelPadding":7}},
"y2":{"field":"hi"}}},
{"data":{"name":"dots"},"mark":{"type":"circle","size":24,"color":"black","opacity":1},"encoding":{"x":{"field":"n","type":"quantitative"},"y":{"field":"y","type":"quantitative"}}},
{"data":{"name":"series"},"mark":{"type":"line","strokeWidth":1.5},"encoding":{"x":{"field":"n","type":"quantitative"},"y":{"field":"y","type":"quantitative"},"color":{"field":"s","type":"nominal","sort":["Pan−genome","Core genes"],"scale":{"domain":["Pan−genome","Core genes"],"range":["#FF0000","#00FF00"]},"legend":{"orient":"none","legendX":10,"legendY":9,"title":null,"fillColor":"white","strokeColor":"#333","padding":9,"symbolType":"M-1.5,0H1.5M0.3,0A0.3,0.3,0,1,1,-0.3,0A0.3,0.3,0,1,1,0.3,0Z","symbolSize":338,"symbolStrokeWidth":1.3,"labelFontSize":15,"labelColor":"#222","labelOffset":14.6,"rowPadding":0,"symbolOpacity":1}}}},
{"data":{"name":"series"},"mark":{"type":"circle","size":95,"opacity":1},"encoding":{"x":{"field":"n","type":"quantitative"},"y":{"field":"y","type":"quantitative"},"color":{"field":"s","type":"nominal","sort":["Pan−genome","Core genes"]}}},
{"data":{"values":[{"x":5.35,"y":10294,"t":"y = 884.8785 x"},{"x":20.1,"y":11435,"t":"+ 2,286.6204"},{"x":5.86,"y":9693,"t":"R² = 0.9999"}]},"mark":{"type":"text","angle":343,"align":"left","baseline":"alphabetic","fontSize":16,"color":"#222"},"encoding":{"x":{"field":"x","type":"quantitative"},"y":{"field":"y","type":"quantitative"},"text":{"field":"t"}}},
{"data":{"values":[{"x":16.6,"y":11450,"t":"0.615"}]},"mark":{"type":"text","angle":343,"align":"left","baseline":"alphabetic","fontSize":10,"color":"#222"},"encoding":{"x":{"field":"x","type":"quantitative"},"y":{"field":"y","type":"quantitative"},"text":{"field":"t"}}},
{"data":{"values":[{"x":18,"y":3475,"t":"y = 2,230.4098 exp(− 0.038 x) + 440.4474"},{"x":18,"y":2875,"t":"R² = 0.9750"}]},"mark":{"type":"text","align":"left","baseline":"alphabetic","fontSize":16.3,"color":"#222"},"encoding":{"x":{"field":"x","type":"quantitative"},"y":{"field":"y","type":"quantitative"},"text":{"field":"t"}}},
{"data":{"values":[{"x":25.05,"y":-3580,"t":"(B)"}]},"mark":{"type":"text","align":"center","baseline":"alphabetic","fontSize":22,"color":"#222","clip":false},"encoding":{"x":{"field":"x","type":"quantitative"},"y":{"field":"y","type":"quantitative"},"text":{"field":"t"}}}
]}
]}
